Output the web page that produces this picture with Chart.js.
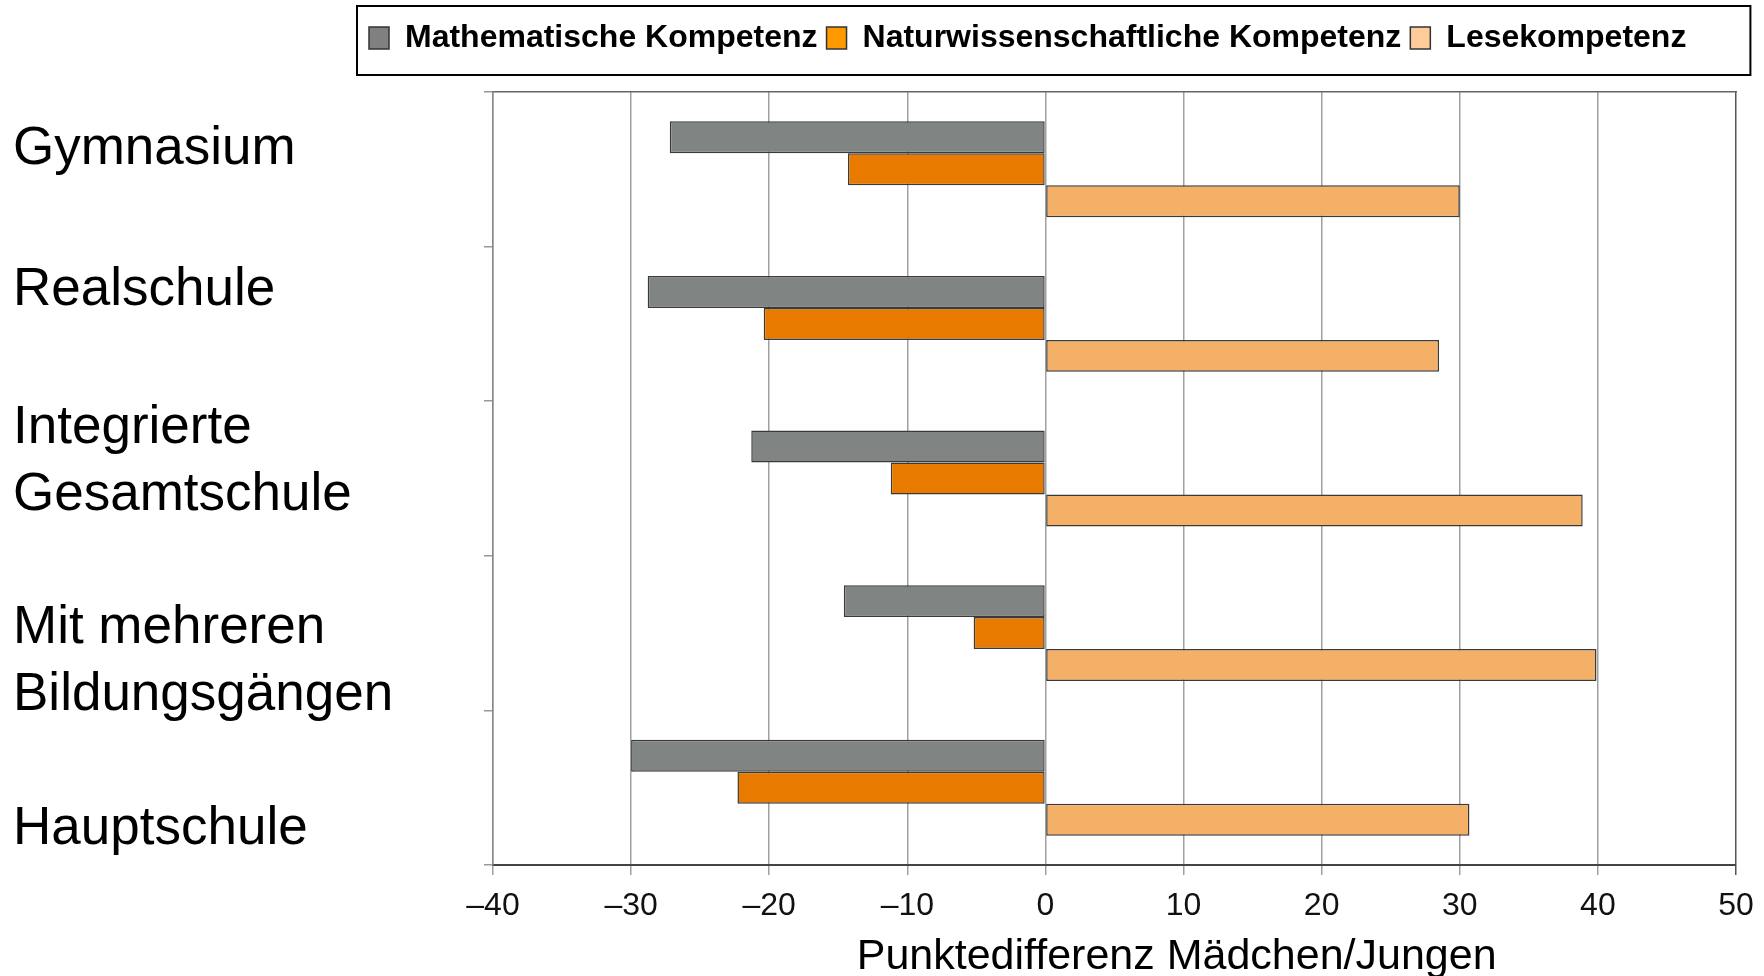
<!DOCTYPE html>
<html>
<head>
<meta charset="utf-8">
<script src="https://cdn.jsdelivr.net/npm/chart.js@4/dist/chart.umd.min.js"></script>
<style>
    html, body { margin: 0; padding: 0; background: #fff; }
</style>
</head>
<body>
<canvas id="gapChart" width="1764" height="976"></canvas>
<script>
// data
var schoolTypes = ["Gymnasium", "Realschule", ["Integrierte", "Gesamtschule"], ["Mit mehreren", "Bildungsgängen"], "Hauptschule"];
var seriesNames = ["Mathematische Kompetenz", "Naturwissenschaftliche Kompetenz", "Lesekompetenz"];
var mathGap = [-27.2, -28.8, -21.3, -14.6, -30.0];
var scienceGap = [-14.3, -20.4, -11.2, -5.2, -22.3];
var readingGap = [30.0, 28.5, 38.9, 39.9, 30.7];
var xTicks = [-40, -30, -20, -10, 0, 10, 20, 30, 40, 50];
var xTitle = "Punktedifferenz Mädchen/Jungen";

var barColors = ["#808584", "#e87a00", "#f5b068"];
var legendColors = ["#808080", "#ff9900", "#ffcc99"];
// the school labels in the original sit a little off their band centres
var labelNudge = [-20, -34, -17, 29, 42];

Chart.defaults.font.family = "'Liberation Sans', Arial, sans-serif";
Chart.defaults.color = "#000";

function makeDataset(i, values) {
    return {
        label: seriesNames[i],
        data: values,
        backgroundColor: barColors[i],
        borderColor: "#3a3a3a",
        borderWidth: 1.5,
        borderSkipped: false,
        categoryPercentage: 0.62,
        barPercentage: 1.0
    };
}

var extras = {
    id: "extras",
    beforeInit: function (chart) {
        var fit = chart.legend.fit;
        chart.legend.fit = function () {
            fit.call(this);
            this.height = 79;
        };
    },
    afterLayout: function (chart) {
        chart.legend.left = 360;
    },
    afterDraw: function (chart) {
        var ctx = chart.ctx;
        var boxes = chart.legend.legendHitBoxes;
        var first = boxes[0], last = boxes[boxes.length - 1];
        ctx.save();
        ctx.strokeStyle = "#000";
        ctx.lineWidth = 2;
        ctx.strokeRect(first.left - 12, first.top - 16, last.left + last.width + 64 - (first.left - 12), 69);

        // school type labels, left aligned
        var ys = chart.scales.y;
        ctx.fillStyle = "#000";
        ctx.font = "53px 'Liberation Sans', Arial, sans-serif";
        ctx.textAlign = "left";
        ctx.textBaseline = "middle";
        schoolTypes.forEach(function (label, i) {
            var lines = Array.isArray(label) ? label : [label];
            var yc = ys.getPixelForValue(i) + labelNudge[i];
            lines.forEach(function (line, j) {
                ctx.fillText(line, 13, yc + (j - (lines.length - 1) / 2) * 67);
            });
        });

        var xs = chart.scales.x;
        ctx.font = "43px 'Liberation Sans', Arial, sans-serif";
        ctx.textAlign = "center";
        ctx.fillText(xTitle, xs.left + xs.width * 0.55, 957);
        ctx.restore();
    }
};

var ctx1 = document.getElementById("gapChart").getContext("2d");
var gapChart = new Chart(ctx1, {
    type: "bar",
    data: {
        labels: schoolTypes,
        datasets: [
            makeDataset(0, mathGap),
            makeDataset(1, scienceGap),
            makeDataset(2, readingGap)
        ]
    },
    options: {
        indexAxis: "y",
        responsive: false,
        animation: false,
        devicePixelRatio: 1,
        layout: { padding: { left: 13, top: 13, right: 28, bottom: 0 } },
        plugins: {
            tooltip: { enabled: false },
            legend: {
                position: "top",
                align: "start",
                labels: {
                    boxWidth: 20,
                    boxHeight: 22,
                    padding: 9,
                    font: { size: 32, weight: "bold" },
                    generateLabels: function (chart) {
                        var items = Chart.defaults.plugins.legend.labels.generateLabels(chart);
                        items.forEach(function (item, i) {
                            item.fillStyle = legendColors[i];
                            item.strokeStyle = "#333";
                            item.lineWidth = 1.5;
                        });
                        return items;
                    }
                }
            }
        },
        scales: {
            x: {
                min: -40,
                max: 50,
                afterBuildTicks: function (scale) {
                    scale.ticks = xTicks.map(function (v) { return { value: v }; });
                },
                afterFit: function (scale) {
                    scale.height = 111;
                    scale.paddingRight = 0;
                },
                ticks: {
                    padding: 12,
                    font: { size: 32 },
                    color: "#111",
                    callback: function (value) {
                        return value < 0 ? "\u2013" + Math.abs(value) : String(value);
                    }
                },
                grid: {
                    color: function (c) {
                        return c.tick && c.tick.value === 50 ? "#555" : "#a0a0a0";
                    },
                    lineWidth: 1.5,
                    tickLength: 10
                },
                border: { color: "#444", width: 2 }
            },
            x2: {
                type: "linear",
                position: "top",
                min: -40,
                max: 50,
                ticks: { display: false },
                grid: { drawOnChartArea: false, drawTicks: false },
                border: { color: "#666", width: 1.5 }
            },
            y: {
                afterFit: function (scale) { scale.width = 480; },
                ticks: { display: false },
                grid: {
                    offset: true,
                    drawOnChartArea: false,
                    tickLength: 9,
                    color: "#999",
                    lineWidth: 1.5
                },
                border: { color: "#888", width: 1.5 }
            }
        }
    },
    plugins: [extras]
});
</script>
</body>
</html>
